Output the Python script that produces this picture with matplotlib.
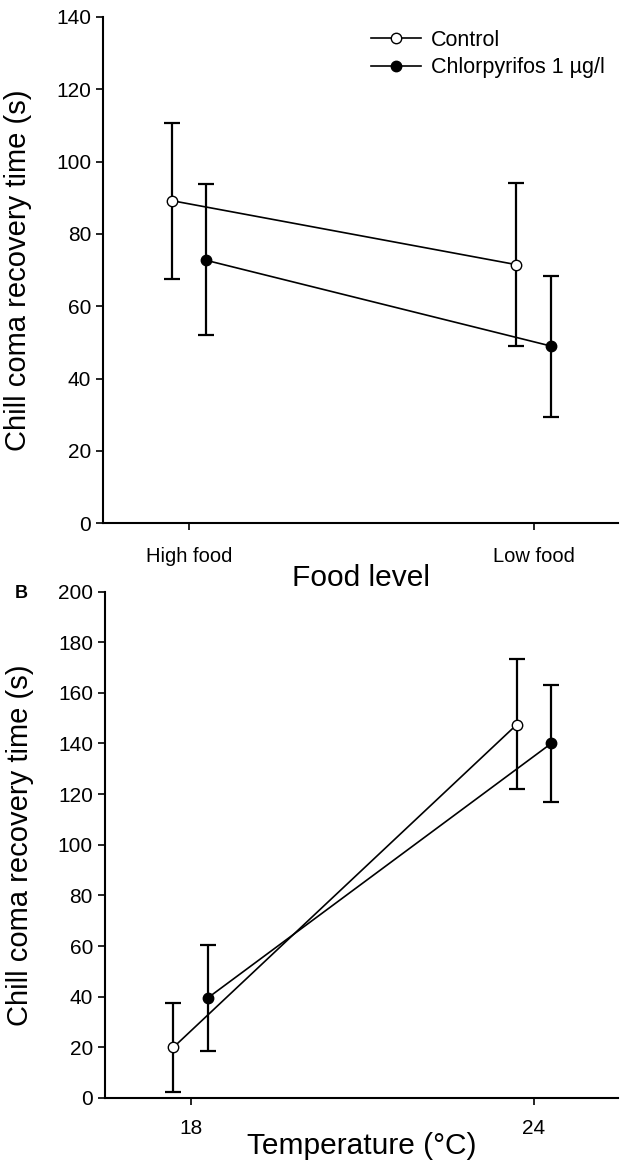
import matplotlib.pyplot as plt

plt.rcParams['font.family'] = ['Liberation Sans', 'DejaVu Sans']

# panel A: food level
food_levels = ['High food', 'Low food']
control_food = [89.2, 71.5]
control_food_hi = [110.6, 94.1]
control_food_lo = [67.6, 49.0]
chlor_food = [72.7, 49.0]
chlor_food_hi = [93.8, 68.5]
chlor_food_lo = [52.0, 29.3]

# panel B: temperature
temps = ['18', '24']
control_temp = [20.0, 147.5]
control_temp_hi = [37.5, 173.5]
control_temp_lo = [2.5, 122.0]
chlor_temp = [39.5, 140.0]
chlor_temp_hi = [60.5, 163.0]
chlor_temp_lo = [18.6, 117.0]

offset = 0.05

fig = plt.figure(figsize=(6.2, 11.68), dpi=100)
ax1 = fig.add_axes([0.166, 0.552, 0.831, 0.4335])
ax2 = fig.add_axes([0.169, 0.060, 0.828, 0.4335])


def draw(ax, labels, c, c_hi, c_lo, p, p_hi, p_lo):
    xs = list(range(len(labels)))
    xc = [x - offset for x in xs]
    xp = [x + offset for x in xs]
    c_err = [[v - l for v, l in zip(c, c_lo)], [h - v for v, h in zip(c, c_hi)]]
    p_err = [[v - l for v, l in zip(p, p_lo)], [h - v for v, h in zip(p, p_hi)]]
    ax.errorbar(xc, c, yerr=c_err, fmt='none', ecolor='black', elinewidth=1.6,
                capsize=5.5, capthick=1.6, zorder=2)
    ax.errorbar(xp, p, yerr=p_err, fmt='none', ecolor='black', elinewidth=1.6,
                capsize=5.5, capthick=1.6, zorder=2)
    ax.plot(xc, c, '-o', color='black', mfc='white', mec='black', ms=7.5,
            lw=1.2, mew=1.0, label='Control', zorder=3)
    ax.plot(xp, p, '-o', color='black', mfc='black', mec='black', ms=7.5,
            lw=1.2, mew=1.0, label='Chlorpyrifos 1 µg/l', zorder=3)
    ax.set_xticks(xs)
    ax.set_xticklabels(labels)
    ax.set_xlim(-0.25, 1.245)
    for s in ['top', 'right']:
        ax.spines[s].set_visible(False)
    for s in ['left', 'bottom']:
        ax.spines[s].set_linewidth(1.5)
    ax.tick_params(direction='out', length=5, width=1.2, labelsize=15)
    ax.set_ylabel('Chill coma recovery time (s)', fontsize=21)
    ax.yaxis.set_label_coords(-0.138, 0.5)


draw(ax1, food_levels, control_food, control_food_hi, control_food_lo,
     chlor_food, chlor_food_hi, chlor_food_lo)
ax1.set_ylim(0, 140)
ax1.set_yticks(range(0, 141, 20))
ax1.tick_params(axis='x', labelsize=14.5, pad=12)
ax1.set_xlabel('Food level', fontsize=21.5, labelpad=-1)
ax1.legend(loc='upper right', bbox_to_anchor=(1.0, 1.0), frameon=False,
           fontsize=15.5, handlelength=2.3, handletextpad=0.5,
           labelspacing=0.3, borderaxespad=0.2)

draw(ax2, temps, control_temp, control_temp_hi, control_temp_lo,
     chlor_temp, chlor_temp_hi, chlor_temp_lo)
ax2.set_ylim(0, 200)
ax2.set_yticks(range(0, 201, 20))
ax2.tick_params(axis='x', pad=10)
ax2.set_xlabel('Temperature (°C)', fontsize=21.5, labelpad=-4)

fig.text(0.035, 0.492, 'B', fontsize=13, fontweight='bold', ha='center', va='center')

fig.savefig('out.png', dpi=100)
